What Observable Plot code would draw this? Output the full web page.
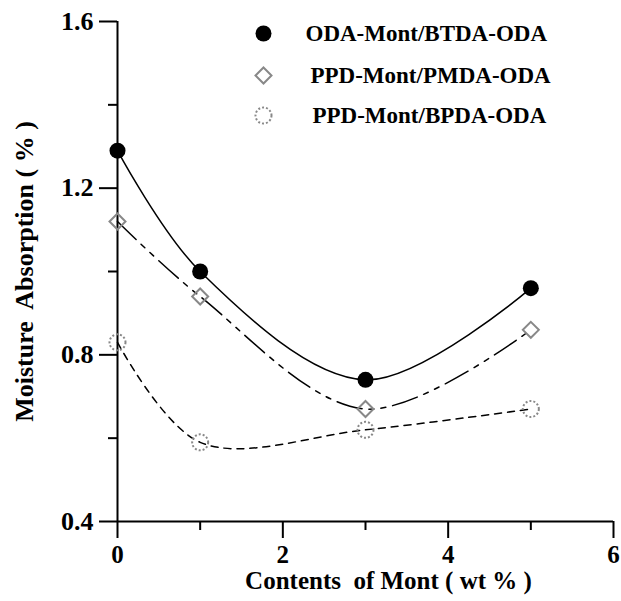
<!DOCTYPE html>
<html>
<head>
<meta charset="utf-8">
<script src="https://cdn.jsdelivr.net/npm/d3@7"></script>
<script src="https://cdn.jsdelivr.net/npm/@observablehq/plot@0.6"></script>
<style>
  html, body { margin: 0; padding: 0; background: #fff; }
</style>
</head>
<body>
<div id="chart"></div>
<script>
// ---- data ----
const contents = [0, 1, 3, 5];
const seriesNames = ["ODA-Mont/BTDA-ODA", "PPD-Mont/PMDA-ODA", "PPD-Mont/BPDA-ODA"];
const btdaValues = [1.29, 1.00, 0.74, 0.96];
const pmdaValues = [1.12, 0.94, 0.67, 0.86];
const bpdaValues = [0.83, 0.59, 0.62, 0.67];
const xMajorTicks = [0, 2, 4, 6];
const xMinorTicks = [1, 3, 5];
const yMajorTicks = [0.4, 0.8, 1.2, 1.6];
const yMinorTicks = [0.6, 1.0, 1.4];
const xTickLabels = ["0", "2", "4", "6"];
const yTickLabels = ["0.4", "0.8", "1.2", "1.6"];
const xTitle = "Contents  of Mont ( wt % )";
const yTitle = "Moisture  Absorption ( % )";

const toRows = vals => contents.map((x, i) => ({x, y: vals[i]}));
const btda = toRows(btdaValues);
const pmda = toRows(pmdaValues);
const bpda = toRows(bpdaValues);

const chart = Plot.plot({
  width: 621,
  height: 601,
  marginLeft: 117,
  marginRight: 8,
  marginTop: 21,
  marginBottom: 80,
  x: {domain: [0, 6]},
  y: {domain: [0.4, 1.6]},
  style: {fontFamily: "'Liberation Serif', 'Times New Roman', serif", fontWeight: "bold", fontSize: "22px", color: "black", background: "white", strokeWidth: "2"},
  marks: [
    // axes (ticks)
    Plot.axisX(xMajorTicks, {tickSize: 17, strokeWidth: 2, label: null, tickFormat: () => ""}),
    Plot.axisX(xMinorTicks, {tickSize: 9, strokeWidth: 2, label: null, tickFormat: () => ""}),
    Plot.axisY(yMajorTicks, {tickSize: 18, strokeWidth: 2, label: null, tickFormat: () => ""}),
    Plot.axisY(yMinorTicks, {tickSize: 9, strokeWidth: 2, label: null, tickFormat: () => ""}),
    Plot.ruleX([0], {y1: 0.4, y2: 1.6, strokeWidth: 2}),
    Plot.ruleY([0.4], {x1: 0, x2: 6, strokeWidth: 2}),
    // tick labels
    Plot.text(xMajorTicks, {x: d => d, y: 0.4, text: (d, i) => xTickLabels[i], dy: 33, textAnchor: "middle", lineAnchor: "middle", fontSize: 25}),
    Plot.text(yMajorTicks, {x: 0, y: d => d, text: (d, i) => yTickLabels[i], dx: -24, textAnchor: "end", lineAnchor: "middle", fontSize: 26}),
    // curves
    Plot.line(btda, {x: "x", y: "y", curve: "catmull-rom", stroke: "black", strokeWidth: 1.5}),
    Plot.line(pmda, {x: "x", y: "y", curve: "catmull-rom", stroke: "black", strokeWidth: 1.5, strokeDasharray: "26,7,5,7,5,7"}),
    Plot.line(bpda, {x: "x", y: "y", curve: "catmull-rom", stroke: "black", strokeWidth: 1.5, strokeDasharray: "7,6"}),
    // markers
    Plot.dot(btda, {x: "x", y: "y", r: 8, fill: "black", stroke: "none"}),
    Plot.dot(pmda, {x: "x", y: "y", r: 7.2, symbol: "diamond2", fill: "none", stroke: "#888", strokeWidth: 1}),
    Plot.dot(bpda, {x: "x", y: "y", r: 8, fill: "none", stroke: "#888", strokeWidth: 1, strokeDasharray: "2,2"}),
    // legend
    Plot.dot([seriesNames[0]], {frameAnchor: "top-left", dx: 146, dy: 12, r: 8, fill: "black", stroke: "none"}),
    Plot.dot([seriesNames[1]], {frameAnchor: "top-left", dx: 146, dy: 54, r: 7.2, symbol: "diamond2", fill: "none", stroke: "#888", strokeWidth: 1}),
    Plot.dot([seriesNames[2]], {frameAnchor: "top-left", dx: 146, dy: 94, r: 8, fill: "none", stroke: "#888", strokeWidth: 1, strokeDasharray: "2,2"}),
    Plot.text([seriesNames[0]], {frameAnchor: "top-left", dx: 188, dy: 12, text: d => d, textAnchor: "start", lineAnchor: "middle", fontSize: 23}),
    Plot.text([seriesNames[1]], {frameAnchor: "top-left", dx: 193, dy: 54, text: d => d, textAnchor: "start", lineAnchor: "middle", fontSize: 23}),
    Plot.text([seriesNames[2]], {frameAnchor: "top-left", dx: 195, dy: 94, text: d => d, textAnchor: "start", lineAnchor: "middle", fontSize: 23}),
    // axis titles
    Plot.text([xTitle], {frameAnchor: "bottom", dx: 23, dy: 59, text: d => d, textAnchor: "middle", lineAnchor: "middle", fontSize: 25}),
    Plot.text([yTitle], {frameAnchor: "left", dx: -93, rotate: -90, text: d => d, textAnchor: "middle", lineAnchor: "middle", fontSize: 26})
  ]
});
document.getElementById("chart").appendChild(chart);
</script>
</body>
</html>
